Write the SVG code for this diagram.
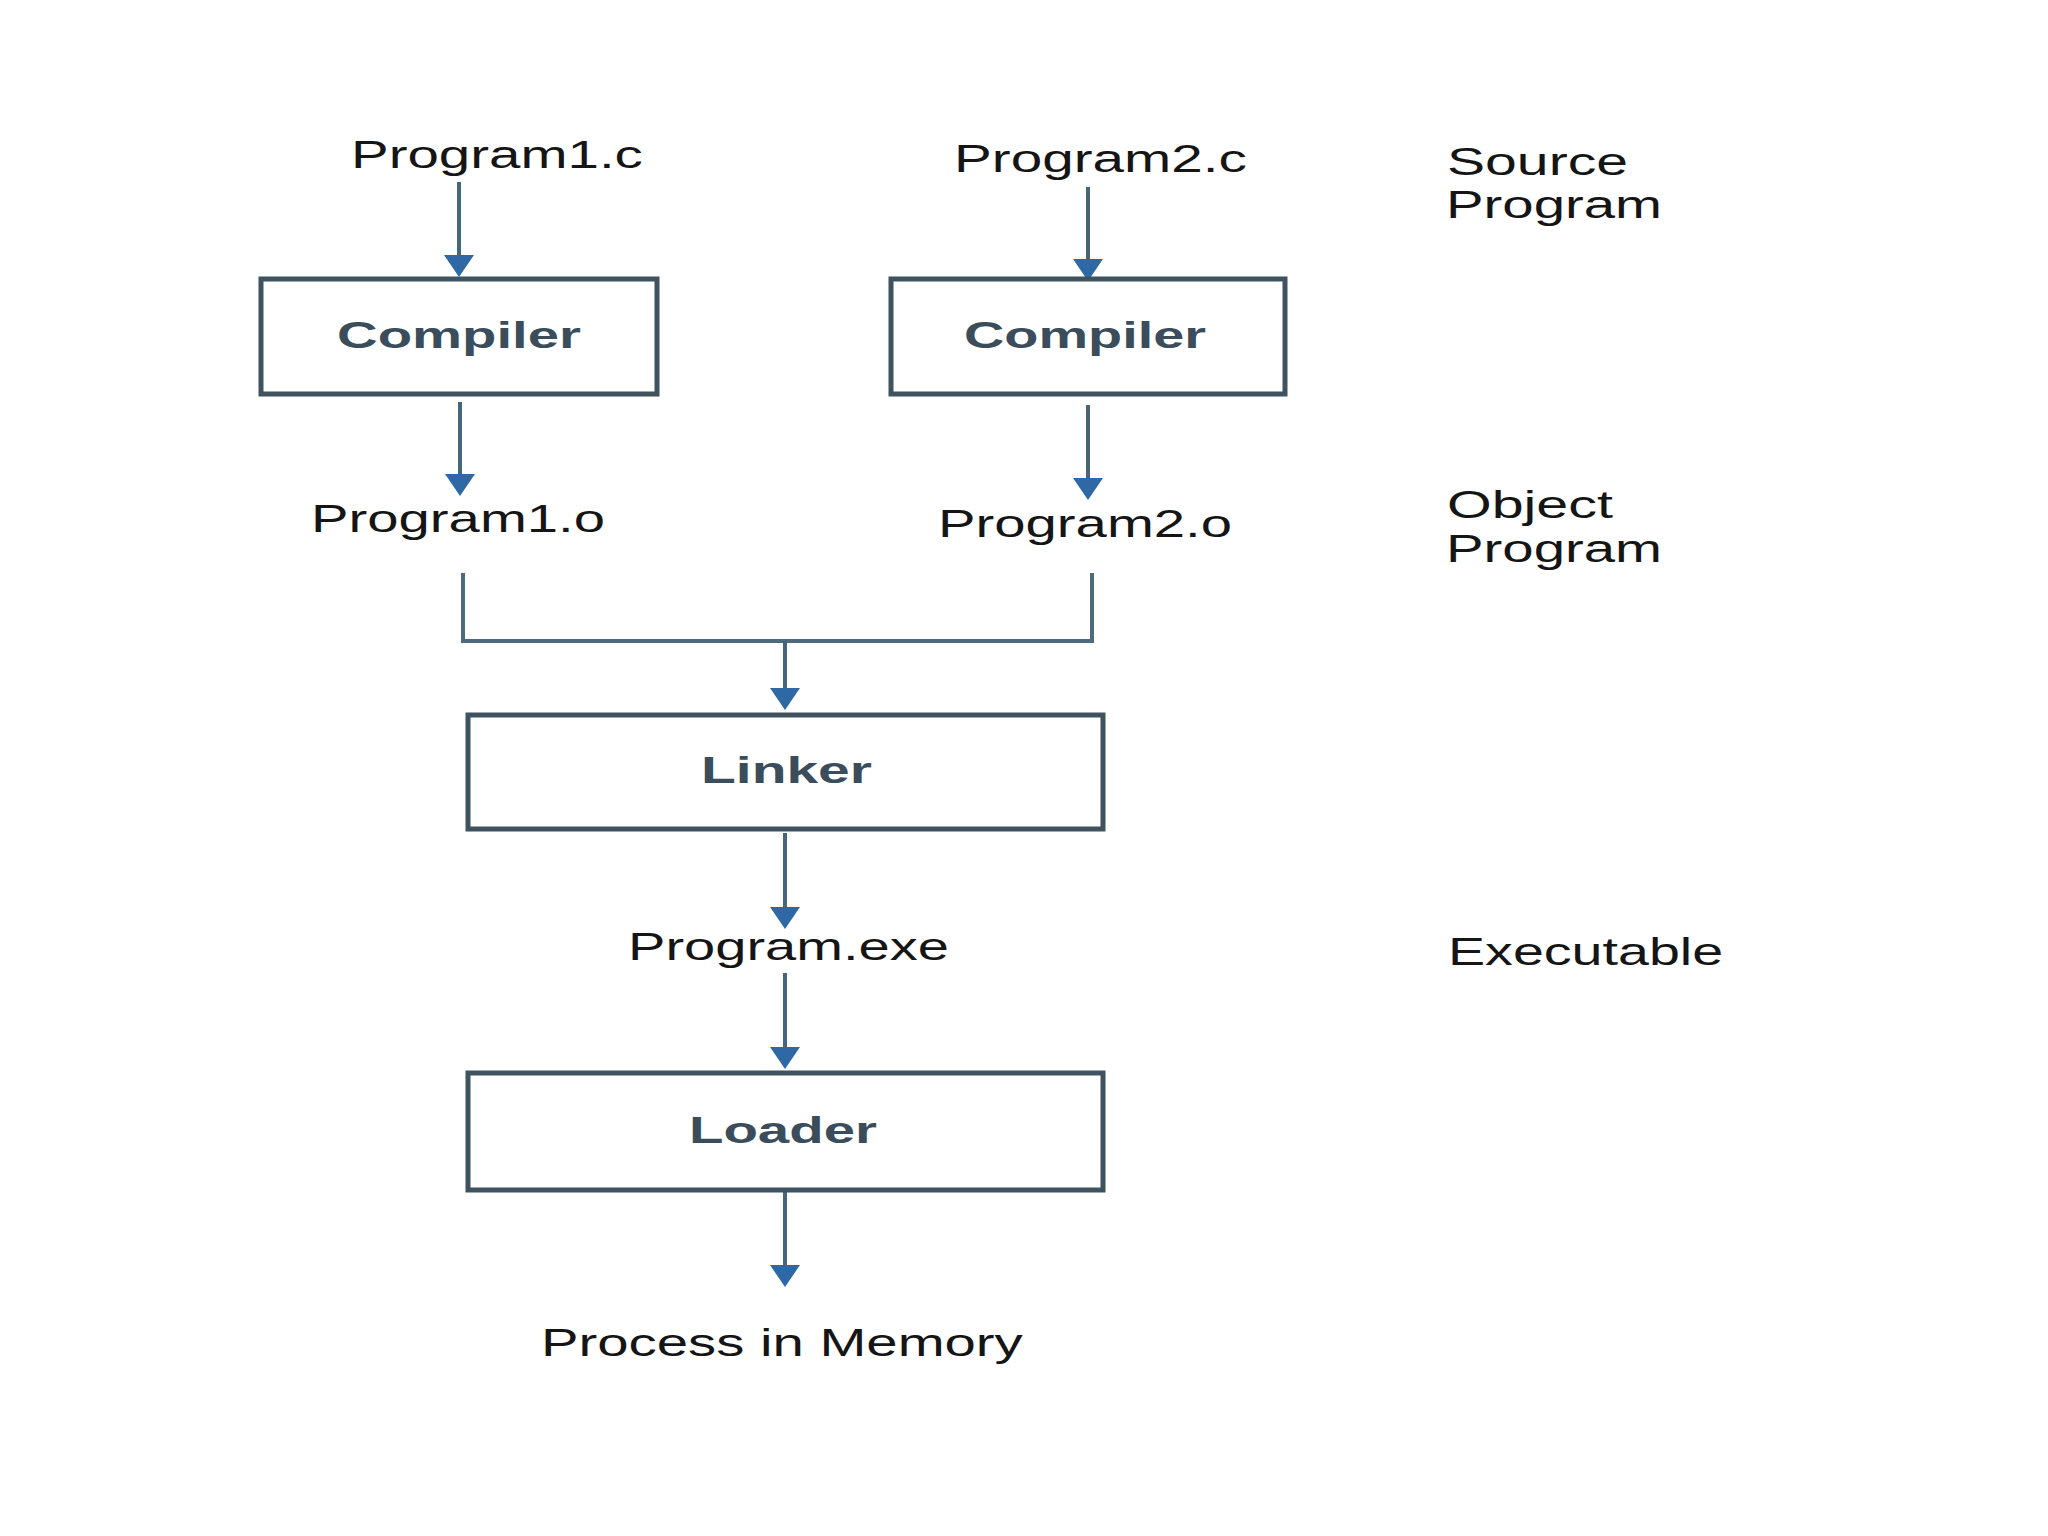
<svg xmlns="http://www.w3.org/2000/svg" width="2048" height="1536" viewBox="0 0 2048 1536">
<style>
.lbl{font-family:"Liberation Sans",Arial,sans-serif;font-size:39px;fill:#151515}
.bold{font-family:"Liberation Sans",Arial,sans-serif;font-size:37px;font-weight:bold;fill:#3b4d5b}
.box{fill:#ffffff;stroke:#3e5260;stroke-width:5}
.conn{fill:none;stroke:#46677a;stroke-width:4}
.brk{fill:none;stroke:#4f6a7a;stroke-width:4}
</style>
<defs>
<marker id="ah" markerUnits="userSpaceOnUse" viewBox="0 0 22 30" refX="0" refY="15" markerWidth="22" markerHeight="30" orient="auto">
<path d="M0,0 L22,15 L0,30 Z" fill="#2e69a6"/>
</marker>
</defs>
<rect width="2048" height="1536" fill="#ffffff"/>

<g id="connectors">
<line class="conn" x1="459" y1="182" x2="459" y2="255" marker-end="url(#ah)"/>
<line class="conn" x1="1088" y1="187" x2="1088" y2="259" marker-end="url(#ah)"/>
<line class="conn" x1="460" y1="402" x2="460" y2="474" marker-end="url(#ah)"/>
<line class="conn" x1="1088" y1="405" x2="1088" y2="478" marker-end="url(#ah)"/>
<polyline class="brk" points="463,573 463,641 1092,641 1092,573"/>
<line class="conn" x1="785" y1="641" x2="785" y2="688" marker-end="url(#ah)"/>
<line class="conn" x1="785" y1="833" x2="785" y2="907" marker-end="url(#ah)"/>
<line class="conn" x1="785" y1="973" x2="785" y2="1047" marker-end="url(#ah)"/>
<line class="conn" x1="785" y1="1192" x2="785" y2="1265" marker-end="url(#ah)"/>
</g>

<g id="program1c" transform="translate(351,168) scale(1.448,1)"><text class="lbl" x="0" y="0">Program1.c</text></g>
<g id="program2c" transform="translate(954,172) scale(1.453,1)"><text class="lbl" x="0" y="0">Program2.c</text></g>

<g id="compiler1">
<rect class="box" x="261" y="279" width="396" height="115"/>
<g transform="translate(337,348) scale(1.521,1)"><text class="bold" x="0" y="0">Compiler</text></g>
</g>
<g id="compiler2">
<rect class="box" x="891" y="279" width="394" height="115"/>
<g transform="translate(964,348) scale(1.509,1)"><text class="bold" x="0" y="0">Compiler</text></g>
</g>

<g id="program1o" transform="translate(311,532) scale(1.443,1)"><text class="lbl" x="0" y="0">Program1.o</text></g>
<g id="program2o" transform="translate(938,537) scale(1.443,1)"><text class="lbl" x="0" y="0">Program2.o</text></g>

<g id="linker">
<rect class="box" x="468" y="715" width="635" height="114"/>
<g transform="translate(701,783) scale(1.54,1)"><text class="bold" x="0" y="0">Linker</text></g>
</g>

<g id="programexe" transform="translate(628,960) scale(1.438,1)"><text class="lbl" x="0" y="0">Program.exe</text></g>

<g id="loader">
<rect class="box" x="468" y="1073" width="635" height="117"/>
<g transform="translate(689,1143) scale(1.524,1)"><text class="bold" x="0" y="0">Loader</text></g>
</g>

<g id="process" transform="translate(541,1356) scale(1.444,1)"><text class="lbl" x="0" y="0">Process in Memory</text></g>

<g id="source-program">
<g transform="translate(1447,175) scale(1.465,1)"><text class="lbl" x="0" y="0">Source</text></g>
<g transform="translate(1446,218) scale(1.445,1)"><text class="lbl" x="0" y="0">Program</text></g>
</g>
<g id="object-program">
<g transform="translate(1447,518) scale(1.473,1)"><text class="lbl" x="0" y="0">Object</text></g>
<g transform="translate(1446,562) scale(1.445,1)"><text class="lbl" x="0" y="0">Program</text></g>
</g>
<g id="executable" transform="translate(1448,965) scale(1.426,1)">
<text class="lbl" x="0" y="0">Executable</text>
</g>
</svg>
